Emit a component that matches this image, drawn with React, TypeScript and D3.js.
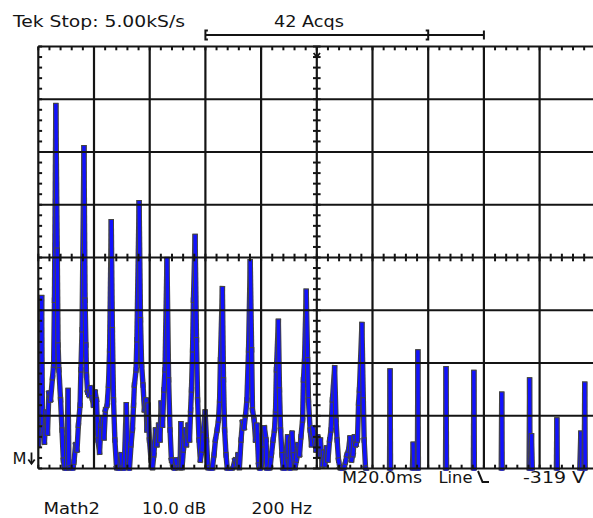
import React from 'react';
import * as d3 from 'd3';

// ---------- data ----------
const FREQ_DOMAIN: [number, number] = [0, 2000]; // Hz, 200 Hz/div
const DB_DOMAIN: [number, number] = [-80, 0]; // dB, 10 dB/div
const HZ_PER_DIV = 200;
const DB_PER_DIV = 10;

const traceHz = [
  1, 6, 12, 15, 22, 28, 33, 38, 44, 51, 55, 58, 63, 68, 71, 74, 80, 85, 90, 96,
  101, 107, 110, 117, 123, 128, 134, 139, 144, 150, 153, 157, 164, 168, 171, 173, 177, 182, 187, 193,
  198, 204, 209, 214, 220, 225, 231, 236, 241, 247, 252, 256, 262, 266, 270, 275, 281, 286, 292, 297,
  302, 308, 316, 322, 327, 333, 338, 342, 345, 351, 354, 362, 367, 371, 376, 381, 387, 390, 394, 399,
  405, 410, 415, 421, 426, 432, 437, 441, 446, 451, 455, 462, 468, 473, 478, 484, 489, 494, 500, 509,
  512, 516, 521, 527, 532, 538, 543, 547, 550, 554, 557, 563, 568, 572, 577, 582, 588, 593, 599, 604,
  609, 617, 624, 631, 636, 642, 647, 651, 654, 661, 665, 669, 674, 679, 685, 692, 699, 706, 712, 717,
  722, 728, 733, 739, 744, 749, 755, 761, 766, 769, 775, 780, 785, 791, 796, 801, 807, 812, 818, 821,
  827, 832, 837, 843, 848, 852, 855, 862, 866, 870, 875, 880, 886, 891, 895, 898, 904, 907, 911, 916,
  922, 927, 932, 938, 943, 949, 952, 956, 962, 967, 970, 976, 981, 986, 992, 997, 1003, 1008, 1013, 1019,
  1024, 1029, 1035, 1040, 1046, 1051, 1056, 1064, 1069, 1073, 1078, 1083, 1090, 1098, 1103, 1108, 1114, 1119, 1125, 1130,
  1135, 1141, 1146, 1150, 1153, 1162, 1167, 1170, 1175, 1180, 1187,
  1261, 1263, 1265,
  1342, 1346, 1351, 1361, 1363, 1365,
  1462, 1464, 1466,
  1562, 1564, 1566,
  1662, 1664, 1666,
  1762, 1764, 1766, 1771, 1775,
  1860, 1862, 1864,
  1943, 1948, 1952, 1960, 1962, 1964, 2000,
];

// FFT trace magnitude in dB (values below -80 are off screen)
const traceDb = [
  -75.5, -70.8, -47.6, -72.3, -75.0, -69.3, -73.3, -65.7, -67.0, -62.8, -60.4, -48.1, -11.2, -38.6, -56.6, -61.3, -67.0, -72.7, -78.4, -80.7,
  -80.5, -65.2, -79.9, -80.7, -80.7, -78.8, -75.5, -76.5, -71.8, -68.0, -61.3, -53.7, -19.2, -48.1, -56.6, -62.3, -65.5, -66.1, -64.7, -66.6,
  -68.0, -65.5, -67.0, -74.6, -76.9, -71.8, -70.4, -74.2, -68.9, -68.0, -64.2, -57.5, -33.2, -53.7, -67.0, -74.6, -79.9, -80.7, -80.3, -77.4,
  -79.9, -80.7, -67.9, -79.3, -80.3, -75.5, -72.7, -68.0, -64.2, -61.3, -55.6, -29.6, -51.8, -60.4, -64.2, -68.9, -67.0, -72.7, -68.0, -74.6,
  -78.4, -79.9, -77.4, -72.7, -75.5, -71.8, -74.6, -67.6, -71.8, -65.1, -61.3, -40.4, -63.2, -72.7, -78.4, -79.7, -80.3, -78.4, -79.9, -79.9,
  -71.5, -79.9, -76.5, -72.7, -75.5, -71.8, -74.6, -68.9, -65.1, -57.5, -48.1, -36.0, -55.6, -67.0, -74.6, -78.4, -76.5, -72.7, -69.3, -74.6,
  -79.9, -80.7, -80.3, -77.4, -74.6, -72.7, -70.8, -67.0, -59.4, -45.9, -63.2, -72.7, -77.4, -80.3, -80.7, -80.3, -79.9, -78.4, -79.3, -77.4,
  -79.9, -74.6, -71.2, -72.3, -69.9, -67.0, -57.5, -40.8, -57.5, -68.9, -70.8, -74.6, -71.8, -79.3, -80.7, -79.3, -75.5, -72.3, -74.6, -80.3,
  -80.7, -79.9, -77.4, -74.6, -72.7, -68.9, -61.3, -52.1, -65.1, -72.7, -77.4, -80.3, -80.7, -76.5, -74.0, -78.4, -80.3, -74.6, -73.3, -77.4,
  -79.9, -78.4, -75.5, -77.4, -74.0, -70.8, -63.2, -59.4, -46.4, -59.4, -67.0, -72.7, -75.5, -72.3, -74.6, -76.5, -74.0, -77.4, -74.6, -79.3,
  -76.9, -79.3, -76.1, -78.4, -74.6, -72.7, -67.0, -60.9, -70.8, -74.6, -78.4, -79.9, -80.3, -79.9, -78.8, -77.4, -76.5, -74.2, -78.4, -77.4,
  -74.0, -75.5, -74.6, -67.6, -65.1, -52.7, -67.0, -74.6, -79.9, -80.7, -82.5,
  -82.5, -61.5, -82.5,
  -82.5, -75.4, -82.5, -82.5, -57.9, -82.5,
  -82.5, -61.1, -82.5,
  -82.5, -61.8, -82.5,
  -82.5, -65.9, -82.5,
  -82.5, -63.2, -80.3, -73.8, -82.5,
  -82.5, -70.8, -82.5,
  -82.5, -73.3, -82.5, -82.5, -64.0, -82.5, -82.5,
];

// record bracket (screen positions in Hz units of the graticule)
const BRACKET_START = 600;
const BRACKET_WINDOW_END = 1400;
const BRACKET_END = 1600;
const TRIGGER_POS = 1000;

const headerLeft = 'Tek Stop: 5.00kS/s';
const headerCenter = '42 Acqs';
const refLabel = 'M';
const statusLabels = ['M20.0ms', 'Line', '-319 V'];
const mathLabels = ['Math2', '10.0 dB', '200 Hz'];

// ---------- layout ----------
const W = 593;
const H = 518;
const PLOT = { left: 38.3, right: 595.3, top: 46.5, bottom: 468.5 };
const BLUE = '#1212ff';
const OUTLINE = '#444444';
const INK = '#141414';
const FONT = "'DejaVu Sans', Verdana, sans-serif";

export default function App() {
  const x = d3.scaleLinear().domain(FREQ_DOMAIN).range([PLOT.left, PLOT.right]);
  const y = d3.scaleLinear().domain(DB_DOMAIN).range([PLOT.bottom, PLOT.top]);

  const pts: [number, number][] = traceHz.map((f, i) => [x(f), y(traceDb[i])]);
  const segs = d3.pairs(pts);

  const xDivs = d3.range(FREQ_DOMAIN[0], FREQ_DOMAIN[1] + 1, HZ_PER_DIV);
  const yDivs = d3.range(DB_DOMAIN[0], DB_DOMAIN[1] + 1, DB_PER_DIV);
  const xMinor = d3.range(FREQ_DOMAIN[0], FREQ_DOMAIN[1] + 1, HZ_PER_DIV / 5);
  const yMinor = d3.range(DB_DOMAIN[0], DB_DOMAIN[1] + 0.01, DB_PER_DIV / 5);
  const midY = y((DB_DOMAIN[0] + DB_DOMAIN[1]) / 2);
  const midX = x(TRIGGER_POS);

  const tick = 3.8;
  const bY = 35;
  const bx0 = x(BRACKET_START);
  const bx1 = x(BRACKET_WINDOW_END);
  const bx2 = x(BRACKET_END);

  return (
    <svg
      width={W}
      height={H}
      viewBox={`0 0 ${W} ${H}`}
      style={{ position: 'absolute', left: 0, top: 0, display: 'block' }}
      fontFamily={FONT}
    >
      <rect x={0} y={0} width={W} height={H} fill="#ffffff" />
      <defs>
        <clipPath id="plotClip">
          <rect x={PLOT.left} y={PLOT.top - 2} width={PLOT.right - PLOT.left + 4} height={PLOT.bottom - PLOT.top + 4} />
        </clipPath>
      </defs>

      {/* trace */}
      <g clipPath="url(#plotClip)">
        {segs.map(([a, b], i) => (
          <g key={i}>
            <line x1={a[0]} y1={a[1]} x2={b[0]} y2={b[1]} stroke={OUTLINE} strokeWidth={5.4} strokeLinecap="square" />
            <line x1={a[0]} y1={a[1]} x2={b[0]} y2={b[1]} stroke={BLUE} strokeWidth={3.4} strokeLinecap="square" />
          </g>
        ))}
      </g>

      {/* graticule */}
      <g stroke={INK} strokeWidth={2.2}>
        {xDivs.map((f) => (
          <line key={'vx' + f} x1={x(f)} x2={x(f)} y1={PLOT.top} y2={PLOT.bottom} />
        ))}
        {yDivs.map((d) => (
          <line key={'hy' + d} x1={PLOT.left} x2={PLOT.right} y1={y(d)} y2={y(d)} />
        ))}
      </g>
      <g stroke={INK} strokeWidth={2}>
        {xMinor.map((f) => (
          <g key={'mx' + f}>
            <line x1={x(f)} x2={x(f)} y1={PLOT.top} y2={PLOT.top + tick} />
            <line x1={x(f)} x2={x(f)} y1={PLOT.bottom} y2={PLOT.bottom - tick} />
            <line x1={x(f)} x2={x(f)} y1={midY - tick} y2={midY + tick} />
          </g>
        ))}
        {yMinor.map((d) => (
          <g key={'my' + d}>
            <line x1={PLOT.left} x2={PLOT.left + tick} y1={y(d)} y2={y(d)} />
            <line x1={midX - tick} x2={midX + tick} y1={y(d)} y2={y(d)} />
          </g>
        ))}
      </g>

      {/* trigger position arrow */}
      <path
        d={`M${midX - 3.2},${PLOT.top + 6.5} L${midX},${PLOT.top + 10.5} L${midX + 3.2},${PLOT.top + 6.5}`}
        fill="none"
        stroke={INK}
        strokeWidth={1.8}
      />

      {/* record bracket */}
      <g stroke={INK} strokeWidth={2} fill="none">
        <line x1={bx0} x2={bx2} y1={bY} y2={bY} />
        <path d={`M${bx0 + 2.5},${bY - 4.5} L${bx0},${bY - 4.5} L${bx0},${bY + 4.5} L${bx0 + 2.5},${bY + 4.5}`} />
        <path d={`M${bx1 - 2.5},${bY - 4.5} L${bx1},${bY - 4.5} L${bx1},${bY + 4.5} L${bx1 - 2.5},${bY + 4.5}`} />
        <line x1={bx2} x2={bx2} y1={bY - 4.5} y2={bY + 4.5} />
      </g>

      {/* texts */}
      <g fill={INK} fontSize={16}>
        <text x={13} y={26.5} textLength={172} lengthAdjust="spacingAndGlyphs">{headerLeft}</text>
        <text x={274} y={26.5} textLength={70} lengthAdjust="spacingAndGlyphs">{headerCenter}</text>
        <text x={12.5} y={463.5} textLength={14} lengthAdjust="spacingAndGlyphs">{refLabel}</text>
        <text x={342} y={483} textLength={80} lengthAdjust="spacingAndGlyphs">{statusLabels[0]}</text>
        <text x={438.5} y={483} textLength={34} lengthAdjust="spacingAndGlyphs">{statusLabels[1]}</text>
        <text x={523} y={483} textLength={62} lengthAdjust="spacingAndGlyphs">{statusLabels[2]}</text>
        <text x={43.5} y={514} textLength={56.5} lengthAdjust="spacingAndGlyphs">{mathLabels[0]}</text>
        <text x={142} y={514} textLength={64} lengthAdjust="spacingAndGlyphs">{mathLabels[1]}</text>
        <text x={251.5} y={514} textLength={60.5} lengthAdjust="spacingAndGlyphs">{mathLabels[2]}</text>
      </g>

      {/* reference marker arrow next to M */}
      <g stroke={INK} strokeWidth={1.8} fill="none">
        <line x1={31.5} x2={31.5} y1={452.5} y2={463.5} />
        <path d="M28.3,459.5 L31.5,463.8 L34.7,459.5" />
      </g>
      {/* falling slope symbol */}
      <path d="M478,471 L482.5,482 L489,482" fill="none" stroke={INK} strokeWidth={2} />
    </svg>
  );
}
